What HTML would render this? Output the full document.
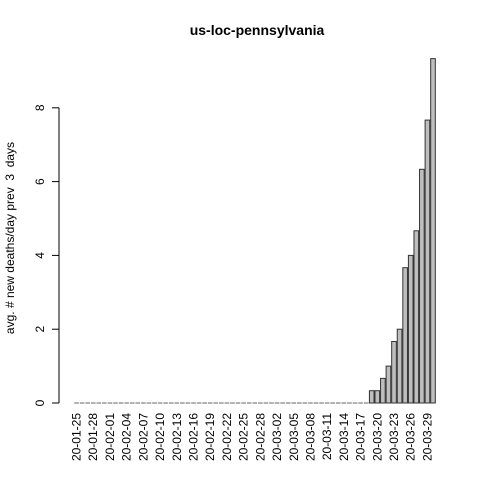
<!DOCTYPE html>
<html><head><meta charset="utf-8"><style>
html,body{margin:0;padding:0;background:#fff}
svg text{font-family:"Liberation Sans",Arial,sans-serif}
</style></head><body>
<svg id="chart" width="480" height="480" viewBox="0 0 480 480" xmlns="http://www.w3.org/2000/svg">
<rect width="480" height="480" fill="#fff"/>
<text x="257" y="35" text-anchor="middle" font-size="14" font-weight="bold">us-loc-pennsylvania</text>
<text transform="translate(14,238) rotate(-90)" text-anchor="middle" font-size="12" style="white-space:pre" xml:space="preserve">avg. # new deaths/day prev  3  days</text>
<g id="yaxis"></g>
<g id="bars"></g>
<g id="xlabels"></g>
</svg>
<script>
const dates = ["20-01-25","20-01-26","20-01-27","20-01-28","20-01-29","20-01-30","20-02-01","20-02-02","20-02-03","20-02-04","20-02-05","20-02-06","20-02-07","20-02-08","20-02-09","20-02-10","20-02-11","20-02-12","20-02-13","20-02-14","20-02-15","20-02-16","20-02-17","20-02-18","20-02-19","20-02-20","20-02-21","20-02-22","20-02-23","20-02-24","20-02-25","20-02-26","20-02-27","20-02-28","20-02-29","20-03-01","20-03-02","20-03-03","20-03-04","20-03-05","20-03-06","20-03-07","20-03-08","20-03-09","20-03-10","20-03-11","20-03-12","20-03-13","20-03-14","20-03-15","20-03-16","20-03-17","20-03-18","20-03-19","20-03-20","20-03-21","20-03-22","20-03-23","20-03-24","20-03-25","20-03-26","20-03-27","20-03-28","20-03-29","20-03-30"];
const nonzeroValues = [0.333,0.333,0.667,1,1.667,2,3.667,4,4.667,6.333,7.667,9.333];
const yTicks = [0,2,4,6,8];
const values = dates.map((d,i)=> i >= dates.length - nonzeroValues.length ? nonzeroValues[i-(dates.length-nonzeroValues.length)] : 0);

const NS="http://www.w3.org/2000/svg";
const pitch=5.57, bw=4.64, x0=74.2;
const y0=403, yUnit=36.9;
const xPos=i=>x0+i*pitch;
const yPos=v=>y0-v*yUnit;

const ya=document.getElementById('yaxis');
let l=document.createElementNS(NS,'line');
l.setAttribute('x1',59);l.setAttribute('x2',59);l.setAttribute('y1',yPos(0));l.setAttribute('y2',yPos(yTicks[yTicks.length-1]));
l.setAttribute('stroke','#000');


ya.appendChild(l);
yTicks.forEach(t=>{
  const tk=document.createElementNS(NS,'line');
  tk.setAttribute('x1',52);tk.setAttribute('x2',59);tk.setAttribute('y1',yPos(t));tk.setAttribute('y2',yPos(t));tk.setAttribute('stroke','#000');
  
  
  ya.appendChild(tk);
  const tx=document.createElementNS(NS,'text');
  tx.setAttribute('transform',`translate(44,${yPos(t)}) rotate(-90)`);
  tx.setAttribute('text-anchor','middle');tx.setAttribute('font-size','12');
  tx.textContent=t;
  
  
  ya.appendChild(tx);
});

const bars=document.getElementById('bars');
values.forEach((v,i)=>{
  const y=yPos(v);
  if(v===0){
    const z=document.createElementNS(NS,'line');
    z.setAttribute('x1',xPos(i));z.setAttribute('x2',xPos(i)+bw);
    z.setAttribute('y1',y0);z.setAttribute('y2',y0);
    z.setAttribute('stroke','#666');z.setAttribute('stroke-width','1');
    
    
    bars.appendChild(z);
    return;
  }
  const r=document.createElementNS(NS,'rect');
  r.setAttribute('x',xPos(i));r.setAttribute('width',bw);
  r.setAttribute('y',Math.min(y,y0));r.setAttribute('height',Math.abs(y0-y));
  r.setAttribute('fill','#bebebe');r.setAttribute('stroke','#333');r.setAttribute('stroke-width','1');
  
  
  bars.appendChild(r);
});

const xl=document.getElementById('xlabels');
dates.forEach((d,i)=>{
  if(i%3!==0) return;
  const tx=document.createElementNS(NS,'text');
  tx.setAttribute('transform',`translate(${xPos(i)+bw/2+4},413) rotate(-90)`);
  tx.setAttribute('text-anchor','end');tx.setAttribute('font-size','12');
  tx.textContent=d;
  
  
  xl.appendChild(tx);
});
</script>
</body></html>
